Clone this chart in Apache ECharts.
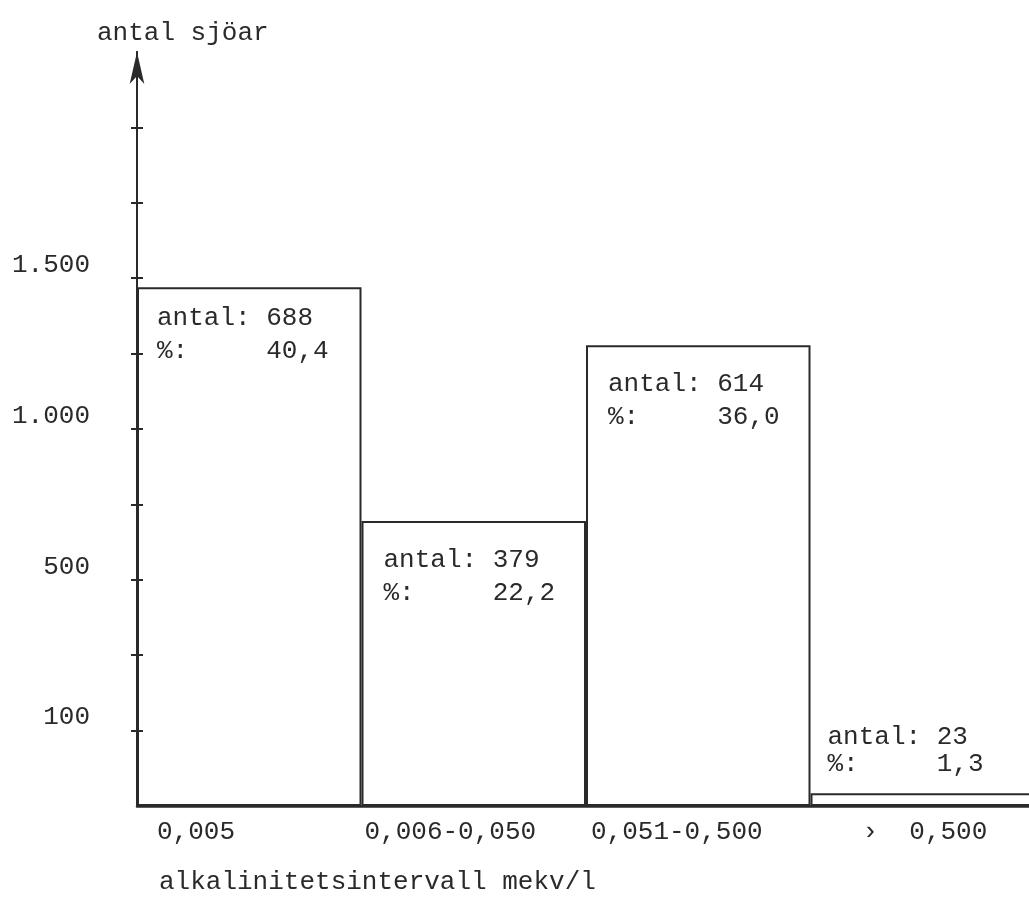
<!DOCTYPE html>
<html>
<head>
<meta charset="utf-8">
<script src="https://cdn.jsdelivr.net/npm/echarts@6/dist/echarts.min.js"></script>
<style>html,body{margin:0;padding:0;background:#fff}#c{width:1029px;height:918px}</style>
</head>
<body>
<div id="c"></div>
<script>
// Data
const categories = ['0,005', '0,006-0,050', '0,051-0,500', '\u203A  0,500'];
const barHeights = [6.88, 3.78, 6.11, 0.17];      // bar tops, read in axis tick steps
const counts = [688, 379, 614, 23];
const percents = ['40,4', '22,2', '36,0', '1,3'];
const yTickSteps = [1, 2, 3, 4, 5, 6, 7, 8, 9];
const yLabelSteps = [1, 3, 5, 7];
const yLabels = ['100', '500', '1.000', '1.500'];
const yTitle = 'antal sjöar';
const xTitle = 'alkalinitetsintervall mekv/l';

// Styling
const FONT = '"Liberation Mono", "DejaVu Sans Mono", monospace';
const INK = '#2a2a2a';
const FS = 26;
const xLabelIndent = [20, 3, 5, 52];
const barLabelPos = [[20, 14], [22, 23], [22, 22], [17, -70]];
const bandW = 224.5;

const chart = echarts.init(document.getElementById('c'), null, {renderer: 'canvas'});

const rich = {};
xLabelIndent.forEach((p, i) => {
  rich['l' + i] = {
    width: bandW - p - 10, padding: [0, 10, 0, p], align: 'left',
    fontFamily: FONT, fontSize: FS, color: INK
  };
});

chart.setOption({
  backgroundColor: '#fff',
  animation: false,
  title: [
    {text: yTitle, left: 92, top: 15,
     textStyle: {fontFamily: FONT, fontSize: FS, fontWeight: 'normal', color: INK}},
    {text: xTitle, left: 154, top: 864,
     textStyle: {fontFamily: FONT, fontSize: FS, fontWeight: 'normal', color: INK}}
  ],
  grid: {left: 137, top: 52, width: 898, height: 754, containLabel: false, outerBoundsMode: 'none'},
  xAxis: {
    type: 'category',
    data: categories,
    boundaryGap: true,
    axisLine: {show: true, lineStyle: {color: INK, width: 2.5}},
    axisTick: {show: false},
    axisLabel: {
      interval: 0, margin: 13, hideOverlap: false,
      formatter: (v, i) => '{l' + i + '|' + v + '}',
      rich: rich
    },
    splitLine: {show: false}
  },
  yAxis: [
    {
      type: 'value', min: 0, max: 10, interval: 1, z: 10,
      axisLine: {show: true, symbol: ['none', 'arrow'], symbolSize: [11, 32], symbolOffset: [0, 0],
                 lineStyle: {color: INK, width: 2}},
      axisTick: {show: true, inside: false, length: 6, customValues: yTickSteps,
                 lineStyle: {color: INK, width: 2}},
      axisLabel: {
        show: true, customValues: yLabelSteps, margin: 47,
        verticalAlign: 'bottom', lineHeight: 26,
        fontFamily: FONT, fontSize: FS, color: INK,
        formatter: v => { const k = yLabelSteps.indexOf(v); return k >= 0 ? yLabels[k] : ''; }
      },
      splitLine: {show: false}
    },
    {
      type: 'value', min: 0, max: 10, interval: 1, position: 'left', offset: 0, z: 10,
      axisLine: {show: true, lineStyle: {color: INK, width: 2}},
      axisTick: {show: true, inside: true, length: 6, customValues: yTickSteps,
                 lineStyle: {color: INK, width: 2}},
      axisLabel: {show: false},
      splitLine: {show: false}
    }
  ],
  series: [{
    type: 'bar',
    barWidth: '100%',
    barCategoryGap: 0,
    itemStyle: {color: '#fff', borderColor: INK, borderWidth: 2},
    emphasis: {disabled: true},
    data: barHeights.map((v, i) => ({
      value: v,
      label: {
        show: true,
        position: barLabelPos[i],
        align: 'left', verticalAlign: 'top',
        fontFamily: FONT, fontSize: FS, color: INK, lineHeight: i === 3 ? 27 : 33,
        formatter: 'antal: ' + counts[i] + '\n%:     ' + percents[i]
      }
    }))
  }]
});
</script>
</body>
</html>
